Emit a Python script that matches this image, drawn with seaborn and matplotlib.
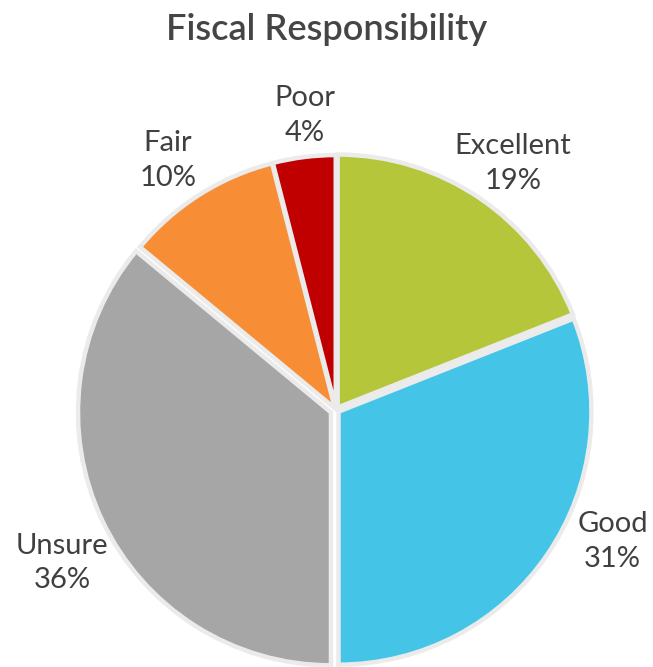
import numpy as np
import matplotlib
matplotlib.use("Agg")
import matplotlib.pyplot as plt
import seaborn as sns

# Survey answers, clockwise from 12 o'clock
categories = ["Excellent", "Good", "Unsure", "Fair", "Poor"]
shares = [19, 31, 36, 10, 4]
colors = ["#b5c63b", "#44c4e6", "#a6a6a6", "#f78e35", "#c00000"]
title = "Fiscal Responsibility"

# Per-label placement tweaks (angle shift in degrees, radial distance)
label_shift = [-1.4, 8.8, 4.0, 1.6, -1.2]
label_dist = [1.20, 1.21, 1.24, 1.19, 1.17]
explode = [0.012, 0.012, 0.022, 0.008, 0.008]

sns.set_theme(style="white")
plt.rcParams["font.family"] = ["Lato", "DejaVu Sans"]

fig = plt.figure(figsize=(6.53, 6.67), dpi=100)
ax = fig.add_axes([0, 0, 1, 1])
ax.set_axis_off()

wedges, _ = ax.pie(
    shares,
    colors=colors,
    startangle=90,
    counterclock=False,
    radius=1.0,
    explode=explode,
    wedgeprops=dict(edgecolor="#ebebeb", linewidth=3.2),
)

ax.set_xlim(-1.328, 1.253)
ax.set_ylim(-1.016, 1.621)
ax.set_aspect("equal")

for w, name, val, dang, dist in zip(wedges, categories, shares, label_shift, label_dist):
    mid = np.deg2rad((w.theta1 + w.theta2) / 2 + dang)
    x, y = dist * np.cos(mid), dist * np.sin(mid)
    ax.text(x, y, f"{name}\n{val}%", ha="center", va="center",
            fontsize=21, color="#404040", linespacing=1.42)

fig.text(0.5, 1 - 30 / 667, title, ha="center", va="center",
         fontsize=26, fontweight="semibold", color="#454545")

fig.savefig("out.png", dpi=100, facecolor="white")
